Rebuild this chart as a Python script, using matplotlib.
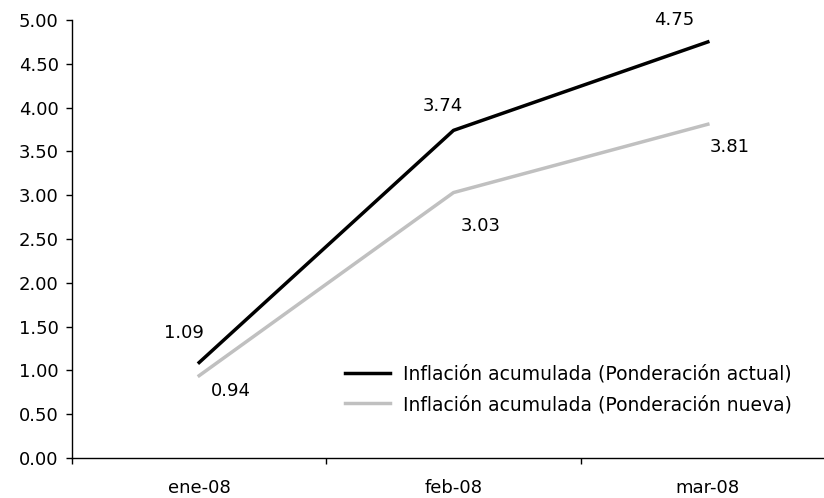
import matplotlib
matplotlib.use("Agg")
import matplotlib.pyplot as plt

categories = ["ene-08", "feb-08", "mar-08"]
actual = [1.09, 3.74, 4.75]
nueva = [0.94, 3.03, 3.81]
label_actual = "Inflación acumulada (Ponderación actual)"
label_nueva = "Inflación acumulada (Ponderación nueva)"
yticks = [0.0, 0.5, 1.0, 1.5, 2.0, 2.5, 3.0, 3.5, 4.0, 4.5, 5.0]

plt.rcParams['font.family'] = ['DejaVu Sans']
plt.rcParams['font.size'] = 13

fig = plt.figure(figsize=(8.24, 4.98), dpi=100)
ax = fig.add_axes([72/824, 40/498, (835-72)/824, (458-20)/498])
x = list(range(len(categories)))
ax.plot(x, actual, color='black', lw=2.5, label=label_actual)
ax.plot(x, nueva, color='#c0c0c0', lw=2.5, label=label_nueva)

ax.set_xlim(-0.5, 2.5)
ax.set_ylim(0, 5)
ax.set_yticks(yticks)
ax.set_yticklabels([f"{v:.2f}" for v in yticks])
ax.set_xticks([-0.5, 0.5, 1.5, 2.5])
ax.set_xticklabels([])
ax.set_xticks(x, minor=True)
ax.set_xticklabels(categories, minor=True)
ax.tick_params(axis='x', which='minor', length=0, pad=15)
ax.tick_params(axis='x', which='major', length=4.5, direction='out', width=1)
ax.tick_params(axis='y', length=4.5, direction='out', width=1, pad=5)
for s in ['top', 'right']:
    ax.spines[s].set_visible(False)
for s in ['left', 'bottom']:
    ax.spines[s].set_linewidth(1)

# data labels (pixel offsets)
offs_a = [(-15, 30), (-11, 24), (-34, 22)]
offs_n = [(32, -15), (27, -33), (22, -23)]
for i in x:
    ax.annotate(f"{actual[i]:.2f}", (i, actual[i]), xytext=offs_a[i], textcoords='offset pixels',
                ha='center', va='center')
    ax.annotate(f"{nueva[i]:.2f}", (i, nueva[i]), xytext=offs_n[i], textcoords='offset pixels',
                ha='center', va='center')

ax.legend(loc='lower left', bbox_to_anchor=(345/824, 84/498), bbox_transform=fig.transFigure,
          frameon=False, fontsize=13.5, handlelength=2.4, handletextpad=0.7, labelspacing=0.6,
          borderpad=0, borderaxespad=0)

fig.savefig("out.png", dpi=100)
